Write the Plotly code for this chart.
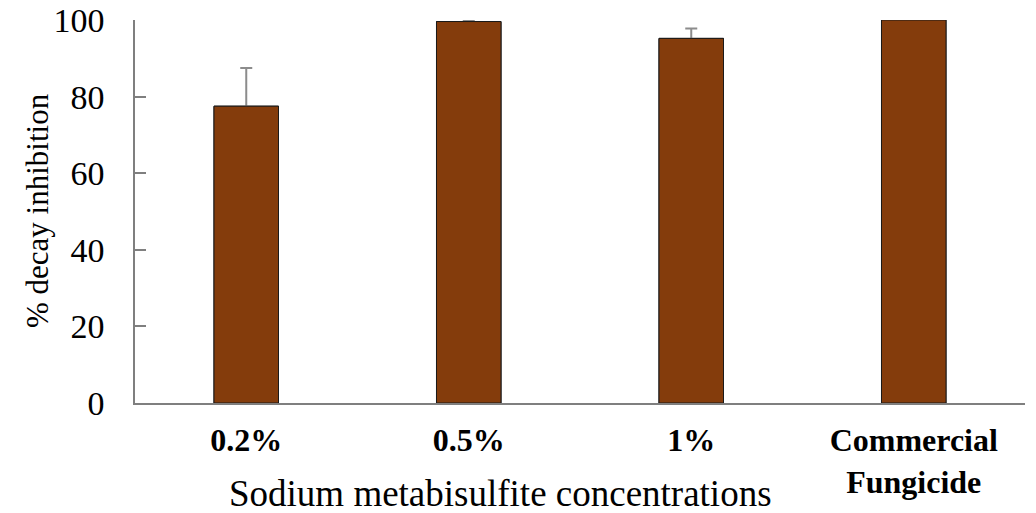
import plotly.graph_objects as go

categories = ["0.2%", "0.5%", "1%", "Commercial<br>Fungicide"]
inhibition = [77.5, 99.6, 95.2, 100.0]
errors = [10.0, 0.3, 2.6, 0.0]
y_ticks = [0, 20, 40, 60, 80, 100]

W, H = 1036, 513
L, R, T, B = 135, 11, 20, 110
pw, ph = W - L - R, H - T - B

bar_style = dict(color="#843C0C", line=dict(color="#1a1a1a", width=1))

fig = go.Figure()
# first pass carries the error bars; the second pass covers their lower halves
fig.add_trace(go.Bar(
    x=categories, y=inhibition, width=0.29, marker=bar_style,
    error_y=dict(type="data", array=errors, color="#8c8c8c", thickness=2, width=6),
))
fig.add_trace(go.Bar(
    x=categories, y=inhibition, width=0.29, marker=bar_style,
))

fig.update_layout(
    width=W, height=H,
    margin=dict(l=L, r=R, t=T, b=B),
    plot_bgcolor="white", paper_bgcolor="white",
    showlegend=False, barmode="overlay",
    font=dict(family="Liberation Serif", color="black"),
)
fig.update_xaxes(
    automargin=False,
    showline=True, linecolor="#7f7f7f", linewidth=1.5,
    ticks="", tickfont=dict(size=32, family="Liberation Serif", color="black"),
    tickprefix="<b>", ticksuffix="</b>",
    ticklabelstandoff=8, ticklabeloverflow="allow",
    showgrid=False,
)
fig.update_yaxes(
    automargin=False,
    range=[0, 100], tickvals=y_ticks,
    showline=True, linecolor="#7f7f7f", linewidth=1.5,
    ticks="inside", ticklen=11, tickcolor="#7f7f7f", tickwidth=1.5,
    tickfont=dict(size=34, family="Liberation Serif", color="black"),
    ticklabelstandoff=22, ticklabeloverflow="allow",
    showgrid=False, zeroline=False,
)
fig.add_annotation(
    text="Sodium metabisulfite concentrations",
    x=(500 - L) / pw, y=-(493 - (H - B)) / ph, xref="paper", yref="paper",
    xanchor="center", yanchor="middle",
    showarrow=False, font=dict(size=37, family="Liberation Serif", color="black"),
)
fig.add_annotation(
    text="% decay inhibition",
    x=-(L - 37) / pw, y=((H - B) - 211) / ph, xref="paper", yref="paper",
    xanchor="center", yanchor="middle", textangle=-90,
    showarrow=False, font=dict(size=31, family="Liberation Serif", color="black"),
)

fig.write_html(
    "out.html",
    config={"displayModeBar": False},
    post_script="document.body.style.margin='0';document.body.style.overflow='hidden';",
)
